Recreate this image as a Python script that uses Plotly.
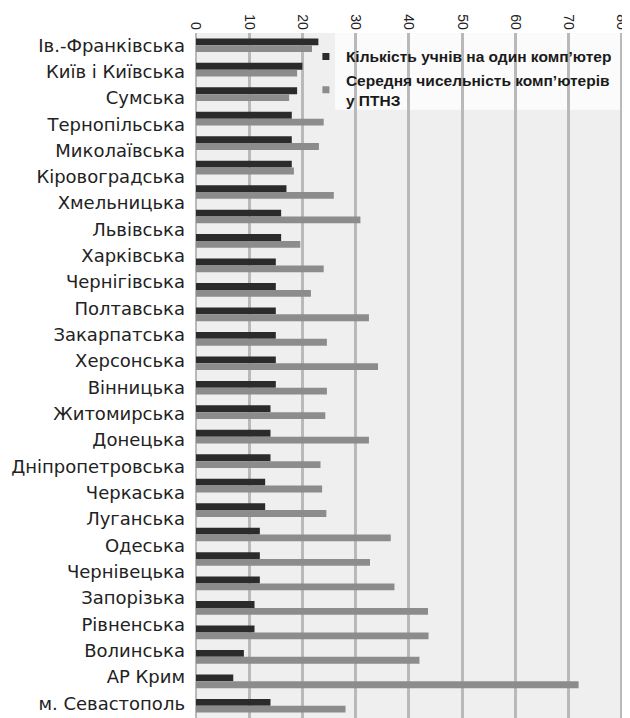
import numpy as np
import plotly.graph_objects as go

region_labels = [
    "Ів.-Франківська", "Київ і Київська", "Сумська", "Тернопільська",
    "Миколаївська", "Кіровоградська", "Хмельницька", "Львівська",
    "Харківська", "Чернігівська", "Полтавська", "Закарпатська",
    "Херсонська", "Вінницька", "Житомирська", "Донецька",
    "Дніпропетровська", "Черкаська", "Луганська", "Одеська",
    "Чернівецька", "Запорізька", "Рівненська", "Волинська",
    "АР Крим", "м. Севастополь",
]

# 28 bar pairs are drawn in the reference (labels spread over the same span)
students_per_computer = [23, 20, 19, 18, 18, 18, 17, 16, 16, 15, 15, 15, 15, 15,
                         15, 14, 14, 14, 13, 13, 12, 12, 12, 11, 11, 9, 7, 14]
avg_computers = [21.8, 19.0, 17.5, 24.0, 23.1, 18.4, 25.9, 30.9, 19.6, 24.0,
                 21.6, 32.5, 24.6, 34.2, 24.6, 24.3, 32.5, 23.4, 23.7, 24.5,
                 36.6, 32.7, 37.3, 43.6, 43.7, 42.0, 71.9, 28.1]

x_ticks = [0, 10, 20, 30, 40, 50, 60, 70, 80]

series1_name = "Кількість учнів на один комп’ютер"
series2_name = "Середня чисельність комп’ютерів<br>у ПТНЗ"

dark = "#2b2b2b"
grey = "#8c8c8c"

n = len(students_per_computer)
pos = list(range(n))

fig = go.Figure()
fig.add_trace(go.Bar(
    y=pos, x=students_per_computer, orientation="h", name=series1_name,
    marker=dict(color=dark, line=dict(width=0)), showlegend=False,
))
fig.add_trace(go.Bar(
    y=pos, x=avg_computers, orientation="h", name=series2_name,
    marker=dict(color=grey, line=dict(width=0)), showlegend=False,
))
# legend entries with small square keys
fig.add_trace(go.Scatter(
    x=[None], y=[None], mode="markers", name=series1_name,
    marker=dict(symbol="square", size=7, color=dark),
))
fig.add_trace(go.Scatter(
    x=[None], y=[None], mode="markers", name=series2_name,
    marker=dict(symbol="square", size=7, color=grey),
))

label_pos = list(np.linspace(0, 26.9, len(region_labels)))

# white panel behind the legend (covers grid, stays under bars)
fig.add_shape(
    type="rect", xref="paper", yref="paper",
    x0=0.3225, x1=1.0, y0=0.888, y1=1.0,
    fillcolor="#fbfbfb", line=dict(width=0), layer="between",
)

# the page body adds an 8px margin, so the figure is sized to fit 630x718
fig.update_layout(
    width=622, height=710,
    margin=dict(l=188, r=3, t=25, b=0),
    paper_bgcolor="white",
    plot_bgcolor="#efefef",
    barmode="group",
    bargap=0.44,
    bargroupgap=0.0,
    font=dict(family="Liberation Sans, Arial, sans-serif", color="#222222"),
    showlegend=True,
    legend=dict(
        x=0.255, y=0.99, xanchor="left", yanchor="top",
        bgcolor="rgba(0,0,0,0)",
        font=dict(size=15.5, color="#1a1a1a", weight="bold"),
        tracegroupgap=0,
        itemwidth=30,
    ),
    xaxis=dict(
        type="linear",
        side="top", range=[0, 81], tickvals=x_ticks,
        tickangle=90, tickfont=dict(size=14, color="#222"),
        ticklabeloverflow="allow",
        showgrid=True, gridcolor="#b9b9b9", gridwidth=2.5,
        zeroline=True, zerolinecolor="#b9b9b9", zerolinewidth=2,
        showline=False, ticks="", automargin=False,
    ),
    yaxis=dict(
        type="linear",
        range=[n - 0.5, -0.5],
        tickvals=label_pos, ticktext=region_labels,
        tickfont=dict(size=18, color="#222", family="DejaVu Sans, sans-serif"),
        ticklabelstandoff=10,
        showgrid=False, zeroline=False, ticks="", showline=False,
        automargin=False,
    ),
)

fig.write_html("out.html")
